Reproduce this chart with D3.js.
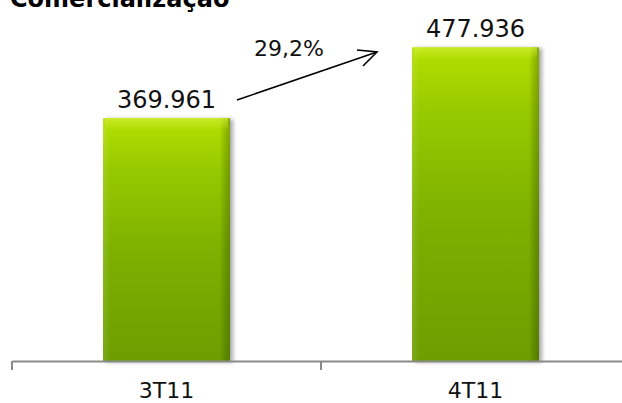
<!DOCTYPE html>
<html><head><meta charset="utf-8">
<script src="https://cdn.jsdelivr.net/npm/d3@7"></script>
<style>body{margin:0;background:#fff;}svg{display:block;}</style>
</head><body>
<script>
const categories = ["3T11", "4T11"];
const values = [369961, 477936];
const valueLabels = ["369.961", "477.936"];
const growthLabel = "29,2%";
const title = "Comercialização";

const W = 622, H = 403;
const svg = d3.select("body").append("svg").attr("width", W).attr("height", H);
const defs = svg.append("defs");

const vg = defs.append("linearGradient").attr("id","vg").attr("x1",0).attr("y1",0).attr("x2",0).attr("y2",1);
vg.append("stop").attr("offset","0%").attr("stop-color","#b4e000");
vg.append("stop").attr("offset","20%").attr("stop-color","#98ca00");
vg.append("stop").attr("offset","55%").attr("stop-color","#7db000");
vg.append("stop").attr("offset","100%").attr("stop-color","#6c9e00");

const hg = defs.append("linearGradient").attr("id","hg").attr("x1",0).attr("y1",0).attr("x2",1).attr("y2",0);
hg.append("stop").attr("offset","0%").attr("stop-color","#ffffff").attr("stop-opacity",0.12);
hg.append("stop").attr("offset","6%").attr("stop-color","#ffffff").attr("stop-opacity",0);
hg.append("stop").attr("offset","92%").attr("stop-color","#000").attr("stop-opacity",0);
hg.append("stop").attr("offset","100%").attr("stop-color","#1a3000").attr("stop-opacity",0.3);

const tg = defs.append("linearGradient").attr("id","tg").attr("x1",0).attr("y1",0).attr("x2",0).attr("y2",1);
tg.append("stop").attr("offset","0%").attr("stop-color","#d8f040").attr("stop-opacity",0.6);
tg.append("stop").attr("offset","100%").attr("stop-color","#d8f040").attr("stop-opacity",0);

const sh = defs.append("filter").attr("id","sh").attr("x","-10%").attr("y","-10%").attr("width","130%").attr("height","120%");
sh.append("feGaussianBlur").attr("in","SourceAlpha").attr("stdDeviation",2);
sh.append("feOffset").attr("dx",3).attr("dy",1).attr("result","ob");
sh.append("feComponentTransfer").append("feFuncA").attr("type","linear").attr("slope",0.35);
const mg = sh.append("feMerge"); mg.append("feMergeNode"); mg.append("feMergeNode").attr("in","SourceGraphic");

const x = d3.scaleBand().domain(categories).range([12, 630]).paddingInner(0).paddingOuter(0);
const y = d3.scaleLinear().domain([0, 550000]).range([361, 0]);
const bw = 127;

const font = "'DejaVu Sans', Verdana, sans-serif";

const g = svg.append("g");
categories.forEach((c,i)=>{
  const cx = x(c) + x.bandwidth()/2;
  const x0 = cx - bw/2, y0 = y(values[i]), h = y(0)-y(values[i]);
  const bg = g.append("g");
  bg.append("rect").attr("x",x0).attr("y",y0).attr("width",bw).attr("height",h).attr("fill","url(#vg)").attr("filter","url(#sh)");
  bg.append("rect").attr("x",x0).attr("y",y0).attr("width",bw).attr("height",h).attr("fill","url(#hg)");
  bg.append("rect").attr("x",x0+2).attr("y",y0).attr("width",bw-4).attr("height",12).attr("fill","url(#tg)");
  svg.append("text").attr("x",cx).attr("y",y0-10).attr("text-anchor","middle")
    .style("font-family",font).style("font-size","24px").attr("fill","#111").text(valueLabels[i]);
});

// axis
const axis = d3.axisBottom(x).tickSize(0).tickFormat("");
const ag = svg.append("g").attr("transform","translate(0,361)").call(axis);
ag.select(".domain").attr("stroke","#8a8a8a").attr("stroke-width",2);
ag.selectAll(".tick").remove();
[12, x(categories[1])].forEach(t=>{
  svg.append("line").attr("x1",t).attr("x2",t).attr("y1",361).attr("y2",370).attr("stroke","#8a8a8a").attr("stroke-width",2);
});
categories.forEach(c=>{
  svg.append("text").attr("x",x(c)+x.bandwidth()/2).attr("y",398).attr("text-anchor","middle")
    .style("font-family",font).style("font-size","22px").attr("fill","#111").text(c);
});

// growth arrow
svg.append("line").attr("x1",237).attr("y1",100).attr("x2",377).attr("y2",52).attr("stroke","#000").attr("stroke-width",1.6);
svg.append("path").attr("d","M357,50 L377,52 L363,66").attr("fill","none").attr("stroke","#000").attr("stroke-width",1.6);
svg.append("text").attr("x",289).attr("y",56).attr("text-anchor","middle")
  .style("font-family",font).style("font-size","22px").attr("fill","#111").text(growthLabel);

svg.append("text").attr("x",10).attr("y",7).style("font-family",font).style("font-weight","bold")
  .style("font-size","24px").attr("fill","#000").text(title);
</script>
</body></html>
